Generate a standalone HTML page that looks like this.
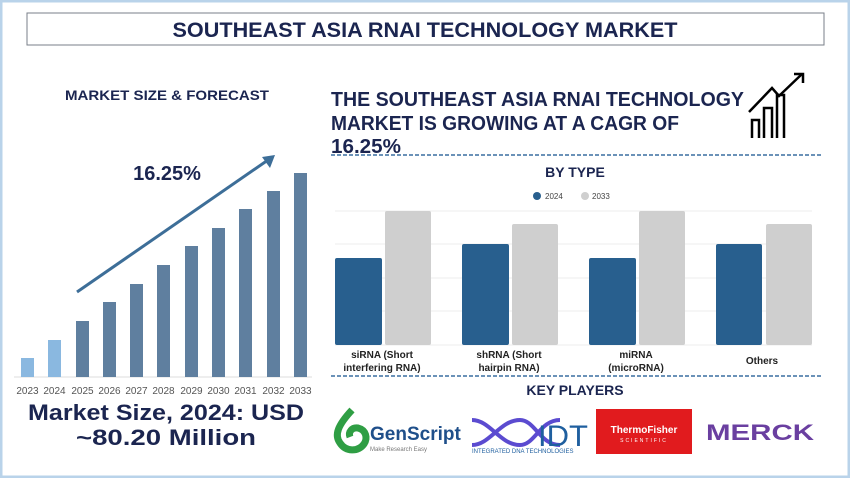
<!DOCTYPE html>
<html><head><meta charset="utf-8"><style>
body{margin:0;width:850px;height:478px;background:#fff;overflow:hidden;font-family:"Liberation Sans",sans-serif;}
</style></head><body>
<svg width="850" height="478" xmlns="http://www.w3.org/2000/svg" font-family="Liberation Sans, sans-serif">
<rect x="1" y="1" width="848" height="476" fill="#fff" stroke="#b9d3ea" stroke-width="3"/>
<rect x="27" y="13" width="797" height="32" fill="#fff" stroke="#7a7f88" stroke-width="1"/>
<text x="425" y="37" text-anchor="middle" font-size="21" font-weight="bold" fill="#1b2550" textLength="505" lengthAdjust="spacingAndGlyphs">SOUTHEAST ASIA RNAI TECHNOLOGY MARKET</text>
<text x="167" y="100" text-anchor="middle" font-size="14" font-weight="bold" fill="#1b2550" textLength="204" lengthAdjust="spacingAndGlyphs">MARKET SIZE &amp; FORECAST</text>
<g font-size="20" font-weight="bold" fill="#1b2550">
<text x="331" y="106" textLength="413" lengthAdjust="spacingAndGlyphs">THE SOUTHEAST ASIA RNAI TECHNOLOGY</text>
<text x="331" y="130" textLength="348" lengthAdjust="spacingAndGlyphs">MARKET IS GROWING AT A CAGR OF</text>
<text x="331" y="153" textLength="70" lengthAdjust="spacingAndGlyphs">16.25%</text>
</g>
<g fill="none" stroke="#000" stroke-width="2.5">
<path d="M752 138V120h7v18M764 138V108h8v30M777 138V95h7v43"/>
<path d="M749 112L772 88 779 96 802 74"/><path d="M794 74h9v9"/>
</g>
<line x1="331" y1="155" x2="822" y2="155" stroke="#3a6fa0" stroke-width="1.5" stroke-dasharray="4,2"/>
<line x1="331" y1="376" x2="822" y2="376" stroke="#3a6fa0" stroke-width="1.5" stroke-dasharray="4,2"/>
<!-- left chart -->
<line x1="14" y1="377" x2="312" y2="377" stroke="#ddd"/>
<g fill="#8ab8e0"><rect x="21" y="358" width="13" height="19"/><rect x="48" y="340" width="13" height="37"/></g>
<g fill="#5f7f9f">
<rect x="76" y="321" width="13" height="56"/><rect x="103" y="302" width="13" height="75"/>
<rect x="130" y="284" width="13" height="93"/><rect x="157" y="265" width="13" height="112"/>
<rect x="185" y="246" width="13" height="131"/><rect x="212" y="228" width="13" height="149"/>
<rect x="239" y="209" width="13" height="168"/><rect x="267" y="191" width="13" height="186"/>
<rect x="294" y="173" width="13" height="204"/></g>
<g font-size="10" fill="#555" text-anchor="middle">
<text x="27.5" y="394">2023</text><text x="54.5" y="394">2024</text><text x="82.5" y="394">2025</text><text x="109.5" y="394">2026</text><text x="136.5" y="394">2027</text><text x="163.5" y="394">2028</text><text x="191.5" y="394">2029</text><text x="218.5" y="394">2030</text><text x="245.5" y="394">2031</text><text x="273.5" y="394">2032</text><text x="300.5" y="394">2033</text></g>
<line x1="77" y1="292" x2="268" y2="160" stroke="#3d6e98" stroke-width="3"/>
<path d="M275 155L262 157 270 168Z" fill="#3d6e98"/>
<text x="167" y="180" text-anchor="middle" font-size="20" font-weight="bold" fill="#1b2550">16.25%</text>
<text x="166" y="420" text-anchor="middle" font-size="22" font-weight="bold" fill="#1b2550" textLength="276" lengthAdjust="spacingAndGlyphs">Market Size, 2024: USD</text>
<text x="166" y="445" text-anchor="middle" font-size="22" font-weight="bold" fill="#1b2550" textLength="180" lengthAdjust="spacingAndGlyphs">~80.20 Million</text>
<!-- right chart -->
<text x="575" y="177" text-anchor="middle" font-size="14" font-weight="bold" fill="#1b2550">BY TYPE</text>
<circle cx="537" cy="196" r="4" fill="#285f8e"/><text x="545" y="199" font-size="8" fill="#444">2024</text>
<circle cx="585" cy="196" r="4" fill="#cfcfcf"/><text x="592" y="199" font-size="8" fill="#444">2033</text>
<g stroke="#eee"><line x1="335" y1="211" x2="812" y2="211"/><line x1="335" y1="244" x2="812" y2="244"/><line x1="335" y1="278" x2="812" y2="278"/><line x1="335" y1="311" x2="812" y2="311"/><line x1="335" y1="345" x2="812" y2="345"/></g>
<g fill="#285f8e"><rect x="335" y="258" width="47" height="87" rx="2"/><rect x="462" y="244" width="47" height="101" rx="2"/><rect x="589" y="258" width="47" height="87" rx="2"/><rect x="716" y="244" width="46" height="101" rx="2"/></g>
<g fill="#cfcfcf"><rect x="385" y="211" width="46" height="134" rx="2"/><rect x="512" y="224" width="46" height="121" rx="2"/><rect x="639" y="211" width="46" height="134" rx="2"/><rect x="766" y="224" width="46" height="121" rx="2"/></g>
<g font-size="10" font-weight="bold" fill="#222" text-anchor="middle">
<text x="382" y="358">siRNA (Short</text><text x="382" y="371">interfering RNA)</text>
<text x="509" y="358">shRNA (Short</text><text x="509" y="371">hairpin RNA)</text>
<text x="636" y="358">miRNA</text><text x="636" y="371">(microRNA)</text>
<text x="762" y="364">Others</text></g>
<text x="575" y="395" text-anchor="middle" font-size="14" font-weight="bold" fill="#1b2550">KEY PLAYERS</text>
<!-- logos -->
<path d="M352 410 C338 425 334 435 340 443 C346 452 358 452 364 444 C368 438 366 430 358 428 C352 427 348 432 350 437" fill="none" stroke="#2f9e44" stroke-width="7"/>
<text x="370" y="440" font-size="19" font-weight="bold" fill="#1f4f8a">GenScript</text>
<text x="370" y="451" font-size="6" fill="#777">Make Research Easy</text>
<path d="M472 420 C490 420 500 445 520 445 C535 445 540 420 560 420 M472 445 C490 445 500 420 520 420 C535 420 540 445 560 445" fill="none" stroke="#5b4bd0" stroke-width="4"/>
<text x="538" y="446" font-size="30" fill="#1f5f9f" textLength="50" lengthAdjust="spacingAndGlyphs">IDT</text>
<text x="472" y="453" font-size="6" fill="#1f5f9f">INTEGRATED DNA TECHNOLOGIES</text>
<rect x="596" y="409" width="96" height="45" fill="#e11b1e"/>
<text x="644" y="433" text-anchor="middle" font-size="10" font-weight="bold" fill="#fff">ThermoFisher</text>
<text x="644" y="442" text-anchor="middle" font-size="5" fill="#fff" letter-spacing="2">SCIENTIFIC</text>
<text x="760" y="440" text-anchor="middle" font-size="22" font-weight="bold" fill="#6a3fa0" textLength="108" lengthAdjust="spacingAndGlyphs">MERCK</text>
</svg>
</body></html>
